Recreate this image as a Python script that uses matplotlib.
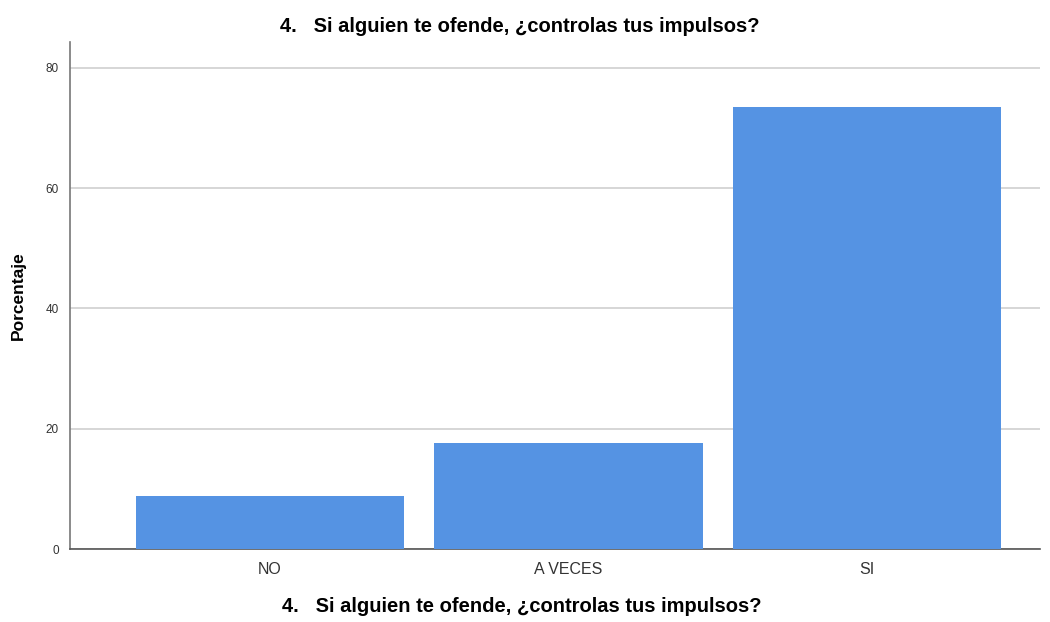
import matplotlib.pyplot as plt

# Datos
categorias = ['NO', 'A VECES', 'SI']
porcentajes = [8.8, 17.6, 73.5]
titulo = '4.   Si alguien te ofende, ¿controlas tus impulsos?'

plt.rcParams['font.family'] = ['Liberation Sans', 'DejaVu Sans']

fig = plt.figure(figsize=(10.5, 6.22), dpi=100)
ax = fig.add_axes([70 / 1050, 1 - 549 / 622, 970 / 1050, 507 / 622])

x = range(len(categorias))
ax.bar(x, porcentajes, width=0.9, color='#5593E3', zorder=3)

ax.set_xlim(-0.67, 2.58)
ax.set_ylim(0, 84.3)
ax.set_yticks([0, 20, 40, 60, 80])
ax.set_xticks(list(x))
ax.set_xticklabels(categorias, fontsize=11.5, color='#333333')
ax.tick_params(axis='y', labelsize=8.5, length=0, pad=8, colors='#333333')
ax.tick_params(axis='x', length=0, pad=9)

ax.grid(axis='y', color='#d0d0d0', linewidth=1.2, zorder=0)
for s in ['top', 'right']:
    ax.spines[s].set_visible(False)
ax.spines['left'].set_color('#777777')
ax.spines['bottom'].set_color('#555555')
ax.spines['left'].set_linewidth(1.2)
ax.spines['bottom'].set_linewidth(1.2)

ax.set_ylabel('Porcentaje', fontsize=12.5, fontweight='bold', labelpad=14)

# Títulos
fig.text(520 / 1050, 1 - 27 / 622, titulo, ha='center', va='center',
         fontsize=14.5, fontweight='bold')
fig.text(522 / 1050, 1 - 607 / 622, titulo, ha='center', va='center',
         fontsize=14.5, fontweight='bold')

plt.savefig('out.png', dpi=100)
